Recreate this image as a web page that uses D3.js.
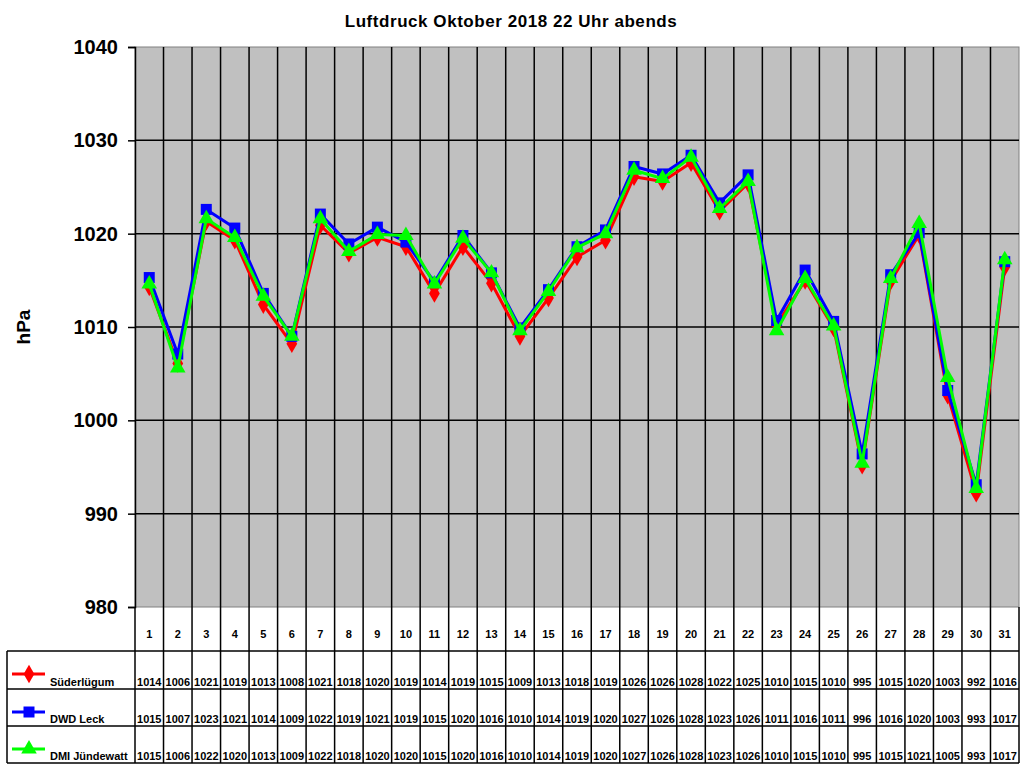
<!DOCTYPE html>
<html>
<head>
<meta charset="utf-8">
<script src="https://cdn.jsdelivr.net/npm/d3@7"></script>
<style>
  body { margin: 0; background: #fff; }
  text { font-family: Arial, "Liberation Sans", sans-serif; font-weight: bold; }
</style>
</head>
<body>
<div id="chart"></div>
<script>
// days of October
var days = d3.range(1, 32);

// plotted values
var suederluegum = [1014.3, 1006.1, 1021.3, 1019.3, 1012.4, 1008.2, 1020.9, 1017.9, 1019.6, 1018.6,
  1013.6, 1018.6, 1014.7, 1009.0, 1013.1, 1017.5, 1019.3, 1026.1, 1025.6, 1027.6,
  1022.4, 1025.4, 1010.2, 1015.0, 1009.9, 995.2, 1014.9, 1019.9, 1002.7, 992.2, 1016.4];
var dwdLeck = [1015.3, 1007.1, 1022.6, 1020.6, 1013.6, 1009.0, 1022.1, 1018.9, 1020.7, 1019.1,
  1014.8, 1019.8, 1015.8, 1009.9, 1014.0, 1018.6, 1020.4, 1027.2, 1026.4, 1028.4,
  1023.3, 1026.3, 1010.7, 1016.1, 1010.6, 996.4, 1015.6, 1020.1, 1003.2, 993.1, 1017.0];
var dmiJuendewatt = [1014.6, 1005.6, 1021.6, 1019.6, 1013.3, 1009.0, 1021.6, 1018.1, 1019.9, 1019.8,
  1014.6, 1019.5, 1015.8, 1009.6, 1013.8, 1018.5, 1020.0, 1026.8, 1025.9, 1028.2,
  1022.7, 1025.6, 1009.6, 1015.2, 1010.1, 995.4, 1015.2, 1021.1, 1004.6, 992.7, 1017.2];

// values as printed in the data table
var tabSuederluegum = [1014, 1006, 1021, 1019, 1013, 1008, 1021, 1018, 1020, 1019, 1014, 1019, 1015, 1009, 1013, 1018,
  1019, 1026, 1026, 1028, 1022, 1025, 1010, 1015, 1010, 995, 1015, 1020, 1003, 992, 1016];
var tabDwdLeck = [1015, 1007, 1023, 1021, 1014, 1009, 1022, 1019, 1021, 1019, 1015, 1020, 1016, 1010, 1014, 1019,
  1020, 1027, 1026, 1028, 1023, 1026, 1011, 1016, 1011, 996, 1016, 1020, 1003, 993, 1017];
var tabDmiJuendewatt = [1015, 1006, 1022, 1020, 1013, 1009, 1022, 1018, 1020, 1020, 1015, 1020, 1016, 1010, 1014, 1019,
  1020, 1027, 1026, 1028, 1023, 1026, 1010, 1015, 1010, 995, 1015, 1021, 1005, 993, 1017];

var yTicks = [980, 990, 1000, 1010, 1020, 1030, 1040];

var series = [
  { name: "Süderlügum", color: "#ff0000", symbol: d3.symbolDiamond, size: 100, values: suederluegum, table: tabSuederluegum },
  { name: "DWD Leck", color: "#0000ff", symbol: d3.symbolSquare, size: 121, values: dwdLeck, table: tabDwdLeck },
  { name: "DMI Jündewatt", color: "#00ff00", symbol: d3.symbolTriangle, size: 105, values: dmiJuendewatt, table: tabDmiJuendewatt }
];

var svgWidth = 1024, svgHeight = 768;
var plot = { left: 135, right: 1019, top: 47, bottom: 607 };
var legendLeft = 7;
var rowY = [607, 651, 689, 726, 763];

var svg = d3.select("#chart").append("svg")
  .attr("width", svgWidth)
  .attr("height", svgHeight);

var x = d3.scaleBand().domain(days).range([plot.left, plot.right]).padding(0);
var y = d3.scaleLinear().domain([980, 1040]).range([plot.bottom, plot.top]);
var cx = d => x(d) + x.bandwidth() / 2;

// title
svg.append("text")
  .attr("x", 511).attr("y", 27)
  .attr("text-anchor", "middle")
  .attr("font-size", "17px")
  .attr("letter-spacing", "0.55px")
  .text("Luftdruck Oktober 2018 22 Uhr abends");

// plot background
svg.append("rect")
  .attr("x", plot.left).attr("y", plot.top)
  .attr("width", plot.right - plot.left).attr("height", plot.bottom - plot.top)
  .attr("fill", "#c0c0c0")
  .attr("stroke", "#808080");

// horizontal gridlines
svg.append("g").selectAll("line")
  .data(yTicks.slice(1, -1))
  .enter().append("line")
  .attr("x1", plot.left).attr("x2", plot.right)
  .attr("y1", d => y(d)).attr("y2", d => y(d))
  .attr("stroke", "#000").attr("stroke-width", 1.5);

// y axis
var yAxis = svg.append("g")
  .attr("transform", `translate(${plot.left},0)`)
  .call(d3.axisLeft(y).tickValues(yTicks).tickSize(7).tickPadding(10).tickFormat(d3.format("d")));
yAxis.select(".domain").attr("stroke", "#000").attr("stroke-width", 1.5);
yAxis.selectAll(".tick line").attr("stroke", "#000").attr("stroke-width", 1.5);
yAxis.selectAll(".tick text")
  .attr("font-size", "20px")
  .attr("fill", "#000")
  .attr("font-family", "Arial, 'Liberation Sans', sans-serif")
  .attr("font-weight", "bold");

svg.append("text")
  .attr("transform", "translate(30,327) rotate(-90)")
  .attr("text-anchor", "middle")
  .attr("font-size", "19px")
  .text("hPa");

// vertical column lines through plot and table
svg.append("g").selectAll("line")
  .data(days.slice(1))
  .enter().append("line")
  .attr("x1", d => x(d)).attr("x2", d => x(d))
  .attr("y1", plot.top).attr("y2", rowY[4])
  .attr("stroke", "#000").attr("stroke-width", 1.5);

// table borders
var tbl = svg.append("g").attr("stroke", "#000").attr("stroke-width", 1.5);
tbl.append("line").attr("x1", plot.left).attr("x2", plot.left).attr("y1", plot.bottom).attr("y2", rowY[4]);
tbl.append("line").attr("x1", plot.right).attr("x2", plot.right).attr("y1", plot.bottom).attr("y2", rowY[4]);
tbl.append("line").attr("x1", legendLeft).attr("x2", legendLeft).attr("y1", rowY[1]).attr("y2", rowY[4]);
[1, 2, 3, 4].forEach(function(i) {
  tbl.append("line").attr("x1", legendLeft).attr("x2", plot.right).attr("y1", rowY[i]).attr("y2", rowY[i]);
});

// day header
svg.append("g").selectAll("text")
  .data(days)
  .enter().append("text")
  .attr("x", d => cx(d)).attr("y", 638)
  .attr("text-anchor", "middle")
  .attr("font-size", "11px")
  .text(d => d);

// series lines and markers
series.forEach(function(s) {
  var line = d3.line().x((v, i) => cx(days[i])).y(v => y(v));
  svg.append("path")
    .datum(s.values)
    .attr("d", line)
    .attr("fill", "none")
    .attr("stroke", s.color)
    .attr("stroke-width", 3)
    .attr("stroke-linejoin", "round");
  svg.append("g").selectAll("path")
    .data(s.values)
    .enter().append("path")
    .attr("d", d3.symbol().type(s.symbol).size(s.size))
    .attr("transform", (v, i) => `translate(${cx(days[i])},${y(v)})`)
    .attr("fill", s.color);
});

// table rows with legend
series.forEach(function(s, k) {
  var top = rowY[k + 1], bot = rowY[k + 2];
  var g = svg.append("g");
  g.append("line")
    .attr("x1", 12).attr("x2", 45)
    .attr("y1", top + 23).attr("y2", top + 23)
    .attr("stroke", s.color).attr("stroke-width", 3);
  g.append("path")
    .attr("d", d3.symbol().type(s.symbol).size(s.size))
    .attr("transform", `translate(29,${top + 23})`)
    .attr("fill", s.color);
  g.append("text")
    .attr("x", 50).attr("y", bot - 3)
    .attr("font-size", "11px")
    .text(s.name);
  g.selectAll("text.val")
    .data(s.table)
    .enter().append("text")
    .attr("class", "val")
    .attr("x", (v, i) => cx(days[i])).attr("y", bot - 3)
    .attr("text-anchor", "middle")
    .attr("font-size", "11px")
    .text(v => v);
});
</script>
</body>
</html>
